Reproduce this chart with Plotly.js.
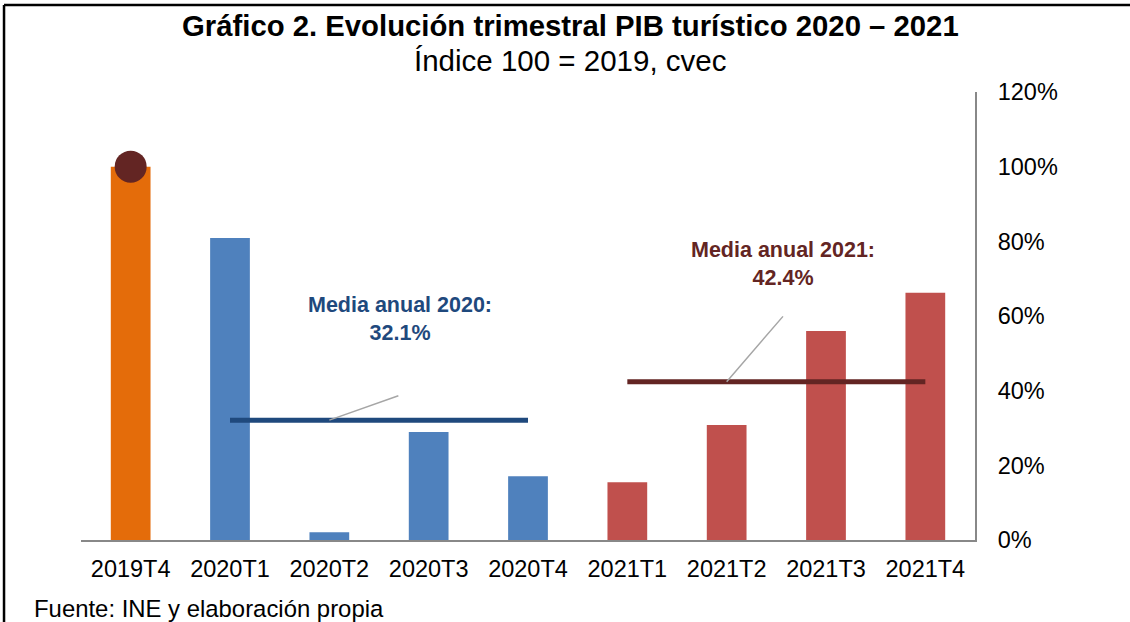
<!DOCTYPE html>
<html>
<head>
<meta charset="utf-8">
<script src="https://cdn.plot.ly/plotly-3.0.1.min.js"></script>
<style>html,body{margin:0;padding:0;background:#fff;}#chart{width:1130px;height:622px;}</style>
</head>
<body>
<div id="chart"></div>
<script>
// ---- Data ----
const categories = ["2019T4","2020T1","2020T2","2020T3","2020T4","2021T1","2021T2","2021T3","2021T4"];
const values = [100, 80.9, 2.1, 28.9, 17.1, 15.5, 30.8, 56.0, 66.2];
const mean2020Cats = ["2020T1","2020T2","2020T3","2020T4"];
const mean2021Cats = ["2021T1","2021T2","2021T3","2021T4"];
const mean2020 = 32.1;
const mean2021 = 42.4;
const yTickVals = [0, 20, 40, 60, 80, 100, 120];
const yTickText = ["0%","20%","40%","60%","80%","100%","120%"];

// ---- Styles ----
const FONT = "Liberation Sans, Arial, sans-serif";
const barColors = ["#E46C0A","#4F81BD","#4F81BD","#4F81BD","#4F81BD","#C0504D","#C0504D","#C0504D","#C0504D"];
const blueDark = "#1F497D";
const maroon = "#632523";

const traces = [
  {
    type: "bar", x: categories, y: values,
    marker: {color: barColors},
    hoverinfo: "x+y", showlegend: false
  },
  {
    type: "scatter", mode: "lines", x: mean2020Cats, y: mean2020Cats.map(() => mean2020),
    line: {color: blueDark, width: 5}, showlegend: false
  },
  {
    type: "scatter", mode: "lines", x: mean2021Cats, y: mean2021Cats.map(() => mean2021),
    line: {color: maroon, width: 5}, showlegend: false
  },
  {
    type: "scatter", mode: "markers", x: [categories[0]], y: [values[0]],
    marker: {color: maroon, size: 32}, showlegend: false
  }
];

const layout = {
  width: 1130, height: 622,
  margin: {l: 81, r: 155, t: 92, b: 82},
  paper_bgcolor: "#fff", plot_bgcolor: "#fff",
  bargap: 0.6,
  font: {family: FONT, color: "#000"},
  xaxis: {
    type: "category", range: [-0.5, 8.5],
    showline: true, linecolor: "#888888", linewidth: 2,
    showgrid: false, zeroline: false, ticks: "",
    tickfont: {size: 23.5, color: "#000"}, ticklabelstandoff: 7
  },
  yaxis: {
    side: "right", range: [0, 120],
    tickvals: yTickVals, ticktext: yTickText,
    showline: true, linecolor: "#888888", linewidth: 2,
    showgrid: false, zeroline: false, ticks: "",
    tickfont: {size: 23.5, color: "#000"}, ticklabelstandoff: 16
  },
  annotations: [
    {xref: "paper", yref: "paper", x: 0.547, y: 1.149, xanchor: "center", yanchor: "middle",
     text: "<b>Gráfico 2. Evolución trimestral PIB turístico 2020 – 2021</b>", showarrow: false,
     font: {size: 29.3, color: "#000"}},
    {xref: "paper", yref: "paper", x: 0.547, y: 1.071, xanchor: "center", yanchor: "middle",
     text: "Índice 100 = 2019, cvec", showarrow: false,
     font: {size: 29.5, color: "#000"}},
    {xref: "x", yref: "y", x: 2.71, y: 59.1, xanchor: "center", yanchor: "middle",
     text: "<b>Media anual 2020:<br>" + mean2020.toFixed(1) + "%</b>", showarrow: false,
     font: {size: 21.5, color: blueDark}},
    {xref: "x", yref: "y", x: 6.57, y: 73.8, xanchor: "center", yanchor: "middle",
     text: "<b>Media anual 2021:<br>" + mean2021.toFixed(1) + "%</b>", showarrow: false,
     font: {size: 21.5, color: maroon}},
    {xref: "x", yref: "y", x: 2.0, y: mean2020, axref: "x", ayref: "y", ax: 2.71, ay: 38.8,
     text: "", showarrow: true, arrowhead: 0, arrowwidth: 1.5, arrowcolor: "#A6A6A6", standoff: 0, startstandoff: 0},
    {xref: "x", yref: "y", x: 6.0, y: mean2021, axref: "x", ayref: "y", ax: 6.58, ay: 60.3,
     text: "", showarrow: true, arrowhead: 0, arrowwidth: 1.5, arrowcolor: "#A6A6A6", standoff: 0, startstandoff: 0},
    {xref: "paper", yref: "paper", x: -0.0545, y: -0.152, xanchor: "left", yanchor: "middle",
     text: "Fuente: INE y elaboración propia", showarrow: false,
     font: {size: 23.9, color: "#000"}}
  ],
  shapes: [
    {type: "line", xref: "paper", yref: "paper", x0: -0.0861, x1: 1.25, y0: 1.1942, y1: 1.1942,
     line: {color: "#000", width: 2.5}},
    {type: "line", xref: "paper", yref: "paper", x0: -0.0861, x1: -0.0861, y0: 1.1942, y1: -0.25,
     line: {color: "#000", width: 2.5}}
  ]
};

Plotly.newPlot("chart", traces, layout, {displayModeBar: false, staticPlot: true});
</script>
</body>
</html>
